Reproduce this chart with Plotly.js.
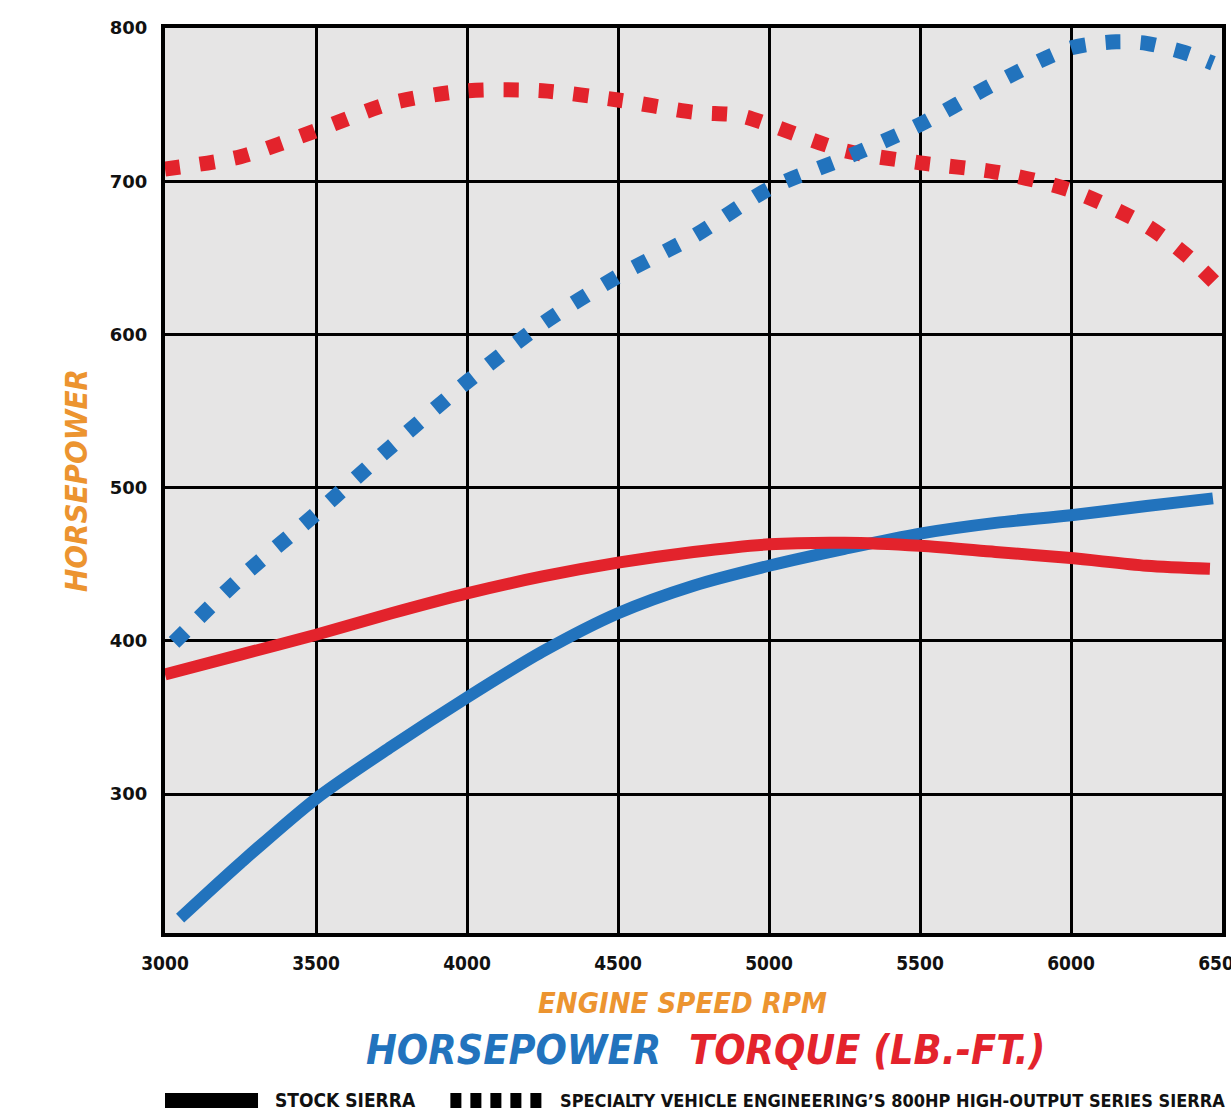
<!DOCTYPE html>
<html>
<head>
<meta charset="utf-8">
<script src="https://cdn.plot.ly/plotly-3.0.1.min.js"></script>
<style>
html,body{margin:0;padding:0;background:#fff;}
#chart{width:1231px;height:1114px;}
</style>
</head>
<body>
<div id="chart"></div>
<script>
// RPM / value readings for each curve
const stockHpRpm = [3050,3250,3500,3750,4000,4250,4500,4750,5000,5250,5500,5750,6000,6250,6470];
const stockHp    = [219, 255, 297, 331, 363, 393, 418, 436, 449, 460, 470, 477, 482, 488, 493];

const stockTqRpm = [3000,3250,3500,3750,4000,4250,4500,4750,5000,5250,5500,5750,6000,6250,6460];
const stockTq    = [378, 391, 404, 418, 431, 442, 451, 458, 463, 464, 462, 458, 454, 449, 447];

const sveHpRpm = [3030,3250,3500,3750,4000,4250,4500,4750,5000,5250,5500,5750,6000,6150,6250,6375,6470];
const sveHp    = [399, 441, 483, 527, 569, 607, 638, 664, 695, 715, 737, 764, 787, 791, 790, 784, 777];

const sveTqRpm = [3000,3250,3500,3750,4000,4250,4500,4750,4900,5000,5250,5500,5750,6000,6250,6380,6480];
const sveTq    = [708, 716, 733, 751, 759, 759, 753, 745, 743, 737, 720, 712, 706, 694, 671, 652, 633];

const xTicks = [3000,3500,4000,4500,5000,5500,6000,6500];
const yTicks = [300,400,500,600,700,800];

const BLUE = '#2273bd';
const RED = '#e3232c';
const ORANGE = '#ec9430';
const DOT = '15px,20px';

const traces = [
  {x: sveTqRpm, y: sveTq, mode: 'lines', line: {color: RED, width: 15, dash: DOT, shape: 'spline', smoothing: 0.8}, name: 'SVE torque'},
  {x: sveHpRpm, y: sveHp, mode: 'lines', line: {color: BLUE, width: 15, dash: DOT, shape: 'spline', smoothing: 0.8}, name: 'SVE horsepower'},
  {x: stockHpRpm, y: stockHp, mode: 'lines', line: {color: BLUE, width: 12, shape: 'spline', smoothing: 0.8}, name: 'Stock horsepower'},
  {x: stockTqRpm, y: stockTq, mode: 'lines', line: {color: RED, width: 12, shape: 'spline', smoothing: 0.8}, name: 'Stock torque'}
];

const condensed = 'DejaVu Sans Condensed, Liberation Sans Narrow, Arial Narrow, sans-serif';

const layout = {
  width: 1231, height: 1114,
  margin: {l: 165, r: 9, t: 28, b: 181},
  paper_bgcolor: '#ffffff',
  plot_bgcolor: '#e6e5e5',
  showlegend: false,
  xaxis: {
    range: [3000, 6500],
    tickvals: xTicks,
    ticktext: xTicks.map(String),
    showgrid: true, gridcolor: '#000', gridwidth: 3,
    showline: true, linecolor: '#000', linewidth: 4, mirror: true,
    zeroline: false, ticks: '',
    ticklabelstandoff: 10,
    ticklabeloverflow: 'allow',
    tickfont: {family: condensed, size: 19, color: '#111', weight: 700}
  },
  yaxis: {
    range: [209.3, 800],
    tickvals: yTicks,
    ticktext: yTicks.map(String),
    showgrid: true, gridcolor: '#000', gridwidth: 3,
    showline: true, linecolor: '#000', linewidth: 4, mirror: true,
    zeroline: false, ticks: '',
    ticklabelstandoff: 10,
    tickfont: {family: 'DejaVu Sans, sans-serif', size: 18, color: '#111', weight: 700},
    title: {text: 'HORSEPOWER', font: {family: condensed, size: 31, color: ORANGE, style: 'italic', weight: 700}, standoff: 14}
  },
  annotations: [
    {xref: 'paper', yref: 'paper', x: 0.49, y: -0.0775, xanchor: 'center', yanchor: 'middle', showarrow: false,
     text: 'ENGINE SPEED RPM', font: {family: condensed, size: 29, color: ORANGE, style: 'italic', weight: 700}},
    {xref: 'paper', yref: 'paper', x: 0.33, y: -0.1293, xanchor: 'center', yanchor: 'middle', showarrow: false,
     text: 'HORSEPOWER', font: {family: condensed, size: 41, color: BLUE, style: 'italic', weight: 700}},
    {xref: 'paper', yref: 'paper', x: 0.664, y: -0.1293, xanchor: 'center', yanchor: 'middle', showarrow: false,
     text: 'TORQUE (LB.-FT.)', font: {family: condensed, size: 41, color: RED, style: 'italic', weight: 700}},
    {xref: 'paper', yref: 'paper', x: 0.102, y: -0.185, xanchor: 'left', yanchor: 'middle', showarrow: false,
     text: 'STOCK SIERRA', font: {family: condensed, size: 19, color: '#111', weight: 700}},
    {xref: 'paper', yref: 'paper', x: 0.372, y: -0.185, xanchor: 'left', yanchor: 'middle', showarrow: false,
     text: 'SPECIALTY VEHICLE ENGINEERING\u2019S 800HP HIGH-OUTPUT SERIES SIERRA', font: {family: condensed, size: 18, color: '#111', weight: 700}}
  ],
  shapes: [
    {type: 'line', xref: 'paper', yref: 'paper', x0: 0, x1: 0.088, y0: -0.185, y1: -0.185, line: {color: '#000', width: 15}},
    {type: 'line', xref: 'paper', yref: 'paper', x0: 0.270, x1: 0.360, y0: -0.185, y1: -0.185, line: {color: '#000', width: 15, dash: '11px,9px'}}
  ]
};

Plotly.newPlot('chart', traces, layout, {displayModeBar: false, staticPlot: true});
</script>
</body>
</html>
